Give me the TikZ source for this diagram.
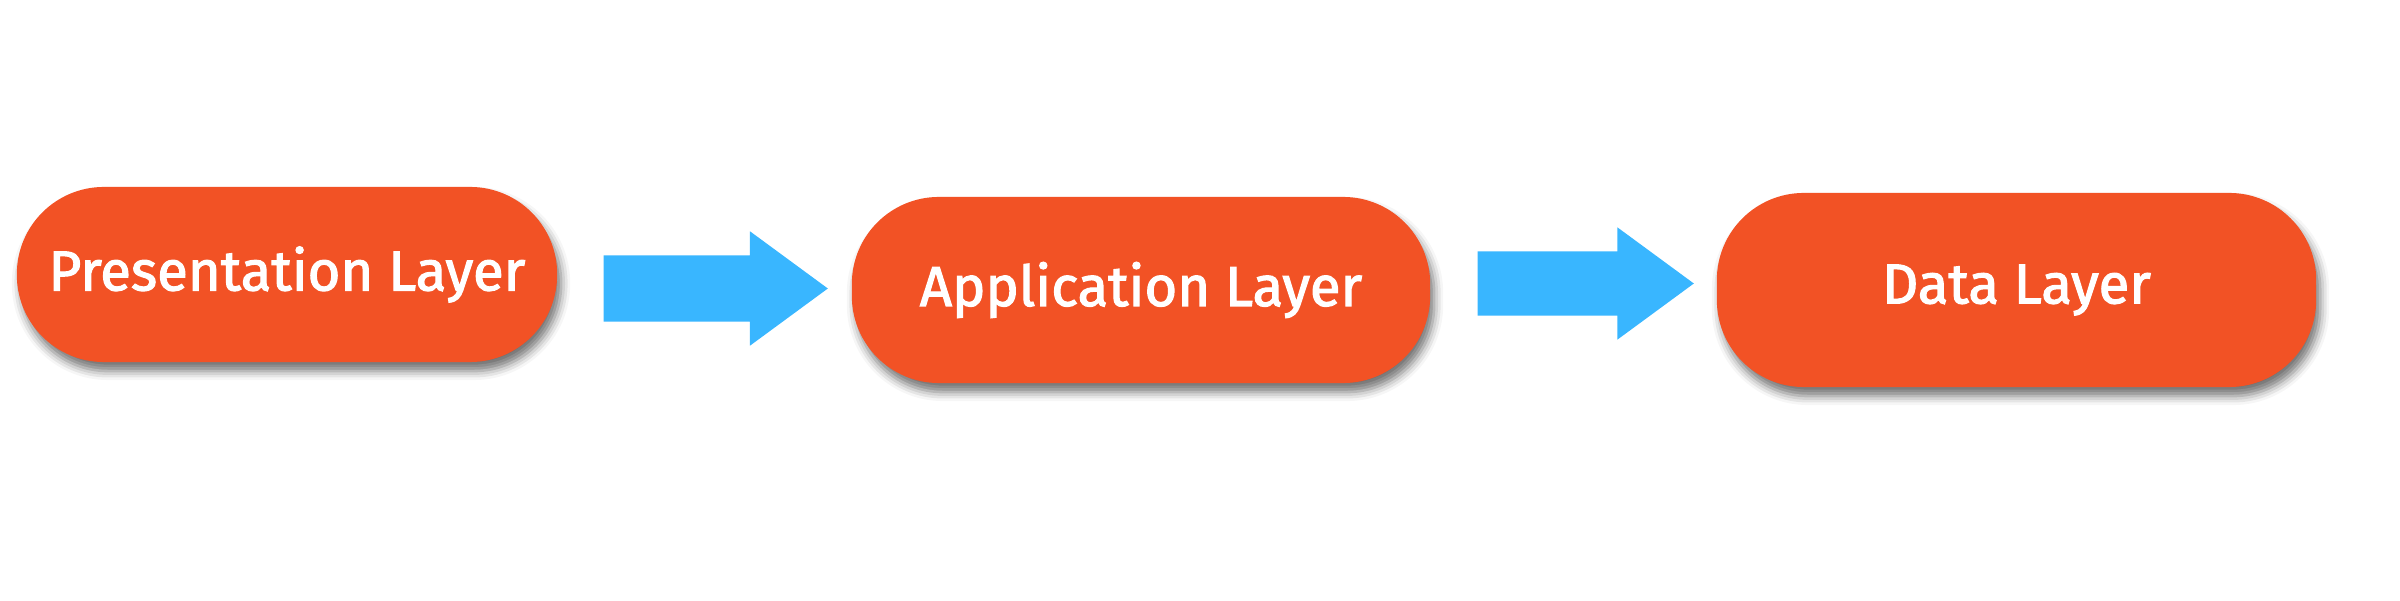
\documentclass[tikz,border=0pt]{standalone}
\usepackage{fontspec}
\setmainfont{Fira Sans}
\newfontfamily\layerfont{Fira Sans}[FakeBold=2]
\usetikzlibrary{shapes.arrows,shadows.blur}

\definecolor{layerorange}{HTML}{F25225}
\definecolor{flowblue}{HTML}{39B6FF}

\tikzset{
  layer/.style={fill=layerorange, text=white, rounded corners=0.87cm,
    inner sep=0pt, font=\layerfont\fontsize{16}{19}\selectfont,
    blur shadow={shadow xshift=0.04cm, shadow yshift=-0.09cm,
      shadow blur radius=0.09cm, shadow opacity=55}},
  flow/.style={single arrow, fill=flowblue, inner xsep=0pt, anchor=tail,
    single arrow head extend=0.24cm, single arrow head indent=0pt,
    single arrow tip angle=72.6}
}

\begin{document}
\begin{tikzpicture}[x=0.01cm,y=0.01cm]
  \useasboundingbox (0,0) rectangle (2400,600);

  % the three layers
  \node[layer, minimum width=5.40cm, minimum height=1.75cm] (presentation) at (287,325.5) {Presentation Layer};
  \node[layer, minimum width=5.78cm, minimum height=1.86cm] (application) at (1141,310) {Application Layer};
  \node[layer, minimum width=5.99cm, minimum height=1.94cm] (data) at (2016.5,310) {Data Layer};

  % flow between them
  \node[flow, inner ysep=0.325cm, minimum height=2.24cm] (flowA) at (603,311.5) {};
  \node[flow, inner ysep=0.315cm, minimum height=2.16cm] (flowB) at (1477,316.5) {};
\end{tikzpicture}
\end{document}
